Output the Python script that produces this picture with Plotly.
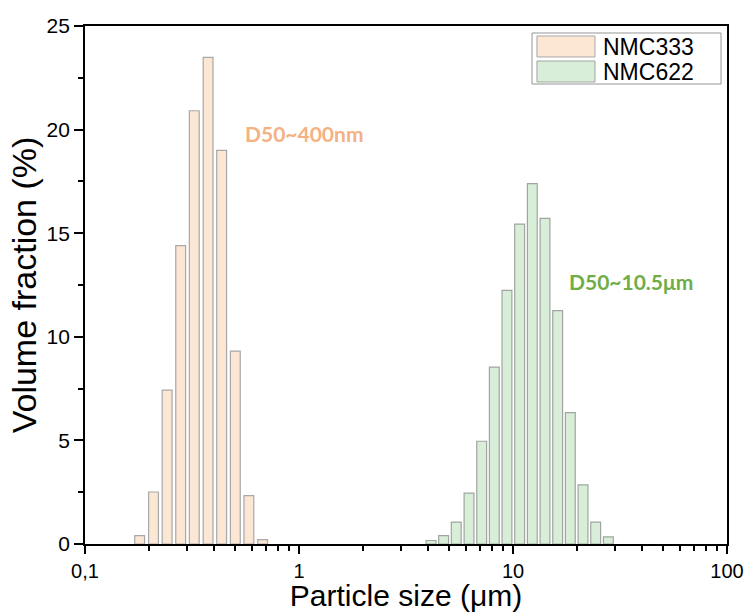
import numpy as np
import plotly.graph_objects as go

# Particle size bins (µm) and volume fractions (%)
nmc333_size = [0.180, 0.209, 0.242, 0.280, 0.324, 0.376, 0.435, 0.504, 0.583, 0.676]
nmc333_frac = [0.40, 2.51, 7.43, 14.40, 20.91, 23.49, 19.00, 9.31, 2.33, 0.21]

nmc622_size = [4.14, 4.74, 5.43, 6.23, 7.14, 8.18, 9.37, 10.74, 12.31, 14.11,
               16.17, 18.53, 21.24, 24.34, 27.90]
nmc622_frac = [0.17, 0.40, 1.06, 2.46, 4.96, 8.54, 12.24, 15.44, 17.39, 15.72,
               11.26, 6.34, 2.85, 1.06, 0.34]

series_names = ["NMC333", "NMC622"]
series_fill = ["rgb(252,230,212)", "rgb(217,238,217)"]
series_edge = ["rgb(168,168,168)", "rgb(160,165,160)"]

x_tick_vals = [0.1, 1, 10, 100]
x_tick_text = ["0,1", "1", "10", "100"]

FONT = "Liberation Sans, Arial, sans-serif"
BAR_W = 0.046  # width in log10 units

log = np.log10
minor_vals = [log(m * 10.0 ** d) for d in (-1, 0, 1) for m in range(2, 10)]

fig = go.Figure()
for name, xs, ys, fc, ec in zip(series_names, [nmc333_size, nmc622_size],
                                [nmc333_frac, nmc622_frac], series_fill, series_edge):
    fig.add_trace(go.Bar(
        x=log(xs), y=ys, name=name, width=BAR_W, showlegend=False,
        marker=dict(color=fc, line=dict(color=ec, width=1.2)),
    ))

fig.add_annotation(x=log(0.548), y=19.8, text="<b>D50~400nm</b>", showarrow=False,
                   xanchor="left", yanchor="middle",
                   font=dict(family="Lato, Open Sans, sans-serif", size=21, color="#F4B183"))
fig.add_annotation(x=log(17.9), y=12.65, text="<b>D50~10.5μm</b>", showarrow=False,
                   xanchor="left", yanchor="middle",
                   font=dict(family="Lato, Open Sans, sans-serif", size=21, color="#70AD47"))

# legend box (paper coordinates), drawn like the original's compact legend
fig.add_shape(type="rect", xref="paper", yref="paper", x0=0.6963, x1=0.9907, y0=0.8880, y1=0.9865,
              line=dict(color="rgb(150,150,150)", width=1), fillcolor="white", layer="above")
for i, (name, fc, ec) in enumerate(zip(series_names, series_fill, series_edge)):
    top = 0.9807 - i * 0.0483
    fig.add_shape(type="rect", xref="paper", yref="paper", x0=0.7040, x1=0.7944,
                  y0=top - 0.0405, y1=top, line=dict(color=ec, width=1), fillcolor=fc, layer="above")
    fig.add_annotation(xref="paper", yref="paper", x=0.8040, y=top - 0.0203, text=name,
                       showarrow=False, xanchor="left", yanchor="middle",
                       font=dict(family=FONT, size=23, color="black"))

fig.update_layout(
    width=746, height=612,
    margin=dict(l=85, r=19, t=26, b=68),
    paper_bgcolor="white", plot_bgcolor="white",
    barmode="overlay",
    font=dict(family=FONT, color="black", size=20),
    showlegend=False,
)
fig.update_xaxes(
    range=[-1, 2], tickmode="array", tickvals=[log(v) for v in x_tick_vals], ticktext=x_tick_text,
    ticks="outside", ticklen=8, tickwidth=1.8, tickcolor="black",
    showline=True, linecolor="black", linewidth=1.8, mirror=True,
    showgrid=False, zeroline=False, automargin=False,
    tickfont=dict(family=FONT, size=20),
    minor=dict(tickmode="array", tickvals=minor_vals, ticks="outside", ticklen=5,
               tickwidth=1.5, tickcolor="black", showgrid=False),
    title=dict(text="Particle size (μm)", font=dict(family=FONT, size=30), standoff=3),
)
fig.update_yaxes(
    range=[0, 25], dtick=5, tick0=0,
    ticks="outside", ticklen=9, tickwidth=1.8, tickcolor="black",
    showline=True, linecolor="black", linewidth=1.8, mirror=True,
    showgrid=False, zeroline=False, automargin=False,
    tickfont=dict(family=FONT, size=21),
    minor=dict(dtick=2.5, ticks="outside", ticklen=5, tickwidth=1.5, tickcolor="black", showgrid=False),
    title=dict(text="Volume fraction (%)", font=dict(family=FONT, size=34), standoff=0),
)

fig.write_html("out.html", config={"displayModeBar": False},
               post_script="document.body.style.margin='0';document.body.style.overflow='hidden';")
